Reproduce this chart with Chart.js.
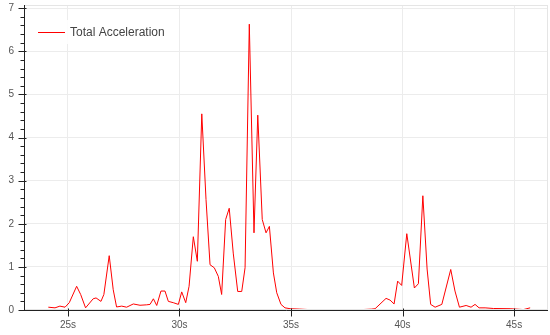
<!DOCTYPE html>
<html>
<head>
<meta charset="utf-8">
<script src="https://cdn.jsdelivr.net/npm/chart.js@4/dist/chart.umd.min.js"></script>
<style>html,body{margin:0;padding:0;background:#fff}canvas{display:block}</style>
</head>
<body>
<canvas id="c" width="550" height="335"></canvas>
<script>
const seriesName = "Total Acceleration";
const times = [24.12,24.42,24.64,24.87,25.06,25.39,25.57,25.79,26.13,26.26,26.48,26.61,26.85,27.03,27.18,27.41,27.63,27.93,28.23,28.53,28.68,28.83,28.98,29.17,29.35,29.50,29.72,29.95,30.10,30.28,30.43,30.62,30.80,31.00,31.19,31.37,31.56,31.74,31.89,32.07,32.23,32.41,32.61,32.79,32.94,33.13,33.34,33.51,33.71,33.88,34.03,34.21,34.36,34.55,34.73,34.96,35.40,35.80,36.20,36.60,37.00,37.40,37.80,38.20,38.60,38.77,39.26,39.44,39.62,39.78,39.96,40.19,40.53,40.71,40.91,41.10,41.26,41.46,41.76,42.16,42.35,42.55,42.85,43.07,43.25,43.43,43.70,44.07,44.82,45.42,45.72];
const accel = [0.065,0.05,0.09,0.065,0.17,0.55,0.36,0.05,0.26,0.28,0.20,0.36,1.26,0.47,0.07,0.09,0.065,0.14,0.11,0.12,0.13,0.26,0.105,0.44,0.44,0.20,0.17,0.13,0.42,0.17,0.55,1.70,1.13,4.55,2.56,1.05,0.98,0.78,0.36,2.10,2.36,1.32,0.43,0.43,0.98,6.63,1.79,4.52,2.10,1.79,1.94,0.86,0.40,0.13,0.05,0.03,0.02,0.01,0.01,0.01,0.01,0.01,0.01,0.01,0.02,0.03,0.27,0.23,0.14,0.67,0.57,1.77,0.51,0.61,2.65,0.95,0.13,0.065,0.13,0.94,0.44,0.065,0.105,0.065,0.13,0.05,0.05,0.035,0.03,0.01,0.05];
const xTicks = [25,30,35,40,45];
const yTicks = [0,1,2,3,4,5,6,7];

const points = times.map((t,i)=>({x:t,y:accel[i]}));
const FONT = 'Liberation Sans, Arial, sans-serif';

const axesPlugin = {
  id:'bokehAxes',
  afterDatasetsDraw(chart){
    const ctx = chart.ctx, a = chart.chartArea;
    const xs = chart.scales.x, ys = chart.scales.y;
    ctx.save();
    ctx.strokeStyle = '#e5e5e5'; ctx.lineWidth = 1;
    ctx.strokeRect(a.left+0.5, a.top+0.5, a.right-a.left-1, a.bottom-a.top-1);
    ctx.strokeStyle = '#222';
    ctx.beginPath();
    const ax = Math.round(a.left)+0.5, ay = Math.round(a.bottom)+0.5;
    ctx.moveTo(ax, a.top); ctx.lineTo(ax, ay);
    ctx.moveTo(ax, ay); ctx.lineTo(a.right, ay);
    yTicks.forEach(v=>{const y=Math.round(ys.getPixelForValue(v))+0.5; ctx.moveTo(ax-6,y); ctx.lineTo(ax+2,y);});
    for(let k=0;k<yTicks[yTicks.length-1]*5;k++){ if(k%5===0) continue; const y=Math.round(ys.getPixelForValue(k/5))+0.5; ctx.moveTo(ax-4,y); ctx.lineTo(ax,y);}    
    xTicks.forEach(v=>{const x=Math.round(xs.getPixelForValue(v))+0.5; ctx.moveTo(x,ay-2); ctx.lineTo(x,ay+6);});
    ctx.stroke();
    // legend
    const ds = chart.data.datasets[0];
    const lx = a.left + 14, ly = a.top + 27;
    ctx.fillStyle = 'rgba(255,255,255,0.9)';
    ctx.fillRect(lx-6, ly-12, 146, 24);
    ctx.strokeStyle = ds.borderColor; ctx.lineWidth = 1;
    ctx.beginPath(); ctx.moveTo(lx, ly+0.5); ctx.lineTo(lx+27, ly+0.5); ctx.stroke();
    ctx.fillStyle = '#444'; ctx.font = '12px ' + FONT; ctx.textBaseline = 'middle'; ctx.textAlign='left';
    ctx.fillText(ds.label, lx+32, ly+1);
    ctx.restore();
  }
};

new Chart(document.getElementById('c'), {
  type:'line',
  data:{datasets:[{label:seriesName,data:points,borderColor:'#ff0000',backgroundColor:'#ff0000',borderWidth:1,pointRadius:0,tension:0,fill:false}]},
  options:{
    responsive:false, animation:false,
    layout:{padding:{top:5,right:2,left:0,bottom:0}},
    plugins:{ tooltip:{enabled:false}, legend:{display:false} },
    scales:{
      x:{type:'linear',min:23.03,max:46.52,
        afterBuildTicks(s){s.ticks = xTicks.map(v=>({value:v}));},
        afterFit(s){s.height=25; s.paddingLeft=0; s.paddingRight=0;},
        grid:{color:'#ececec',drawTicks:false},
        border:{display:false},
        ticks:{padding:9,color:'#555',font:{family:FONT,size:10},maxRotation:0,callback:v=>v+'s'}
      },
      y:{type:'linear',min:0,max:7.075,
        afterBuildTicks(s){s.ticks = yTicks.map(v=>({value:v}));},
        afterFit(s){s.width=24; s.paddingTop=0; s.paddingBottom=0;},
        grid:{color:'#ececec',drawTicks:false},
        border:{display:false},
        ticks:{padding:10,color:'#555',font:{family:FONT,size:10}}
      }
    }
  },
  plugins:[axesPlugin]
});
</script>
</body>
</html>
